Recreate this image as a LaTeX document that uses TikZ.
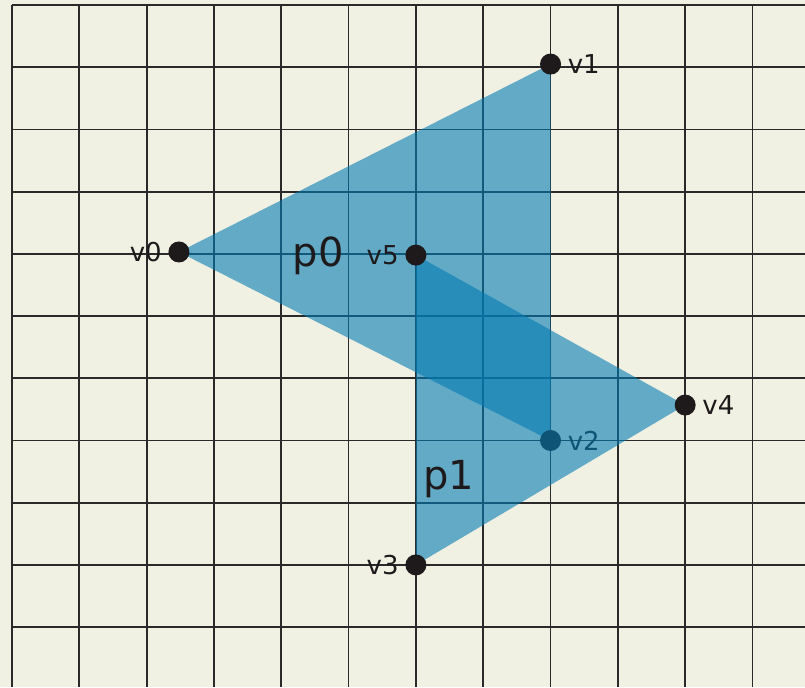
\documentclass[tikz,border=0pt]{standalone}
\usepackage{fontspec}
\setmainfont{DejaVu Sans}
\definecolor{paper}{HTML}{F1F1E3}
\definecolor{gridline}{HTML}{2A2A2A}
\definecolor{polyblue}{HTML}{037BB3}
\definecolor{dotblack}{HTML}{1E1A1C}
\begin{document}
\begin{tikzpicture}[x=67.3pt,y=-62.2pt,
  vtx/.style={circle,fill=dotblack,inner sep=0pt,minimum size=21pt},
  vlbl/.style={font=\fontsize{26}{29}\selectfont,text=dotblack,label distance=3pt},
  poly/.style={fill=polyblue,fill opacity=.6},
  plbl/.style={anchor=base,inner sep=0pt,font=\fontsize{40}{44}\selectfont,text=dotblack}]
  \useasboundingbox[fill=paper] (-0.178,-0.08) rectangle (11.78,10.965);
  \foreach \xx in {0,...,11}{\draw[gridline,line width=1.8pt] (\xx,0) -- (\xx,10.965);}
  \foreach \yy in {0,...,10}{\draw[gridline,line width=1.8pt] (0,\yy) -- (11.78,\yy);}
  \coordinate (c0) at (2.48,3.97);
  \coordinate (c1) at (8,0.95);
  \coordinate (c2) at (8,7);
  \coordinate (c3) at (6,9);
  \coordinate (c4) at (10,6.43);
  \coordinate (c5) at (6,4.02);
  \fill[poly] (c0) -- (c1) -- (c2) -- cycle;
  \node[vtx,label={[vlbl]right:v2}] (v2) at (c2) {};
  \fill[poly] (c5) -- (c3) -- (c4) -- cycle;
  \node[vtx,label={[vlbl]left:v0}] (v0) at (c0) {};
  \node[vtx,label={[vlbl]right:v1}] (v1) at (c1) {};
  \node[vtx,label={[vlbl]left:v3}] (v3) at (c3) {};
  \node[vtx,label={[vlbl]right:v4}] (v4) at (c4) {};
  \node[vtx,label={[vlbl]left:v5}] (v5) at (c5) {};
  \node[plbl] (p0) at (4.55,4.2) {p0};
  \node[plbl] (p1) at (6.49,7.78) {p1};
\end{tikzpicture}
\end{document}
